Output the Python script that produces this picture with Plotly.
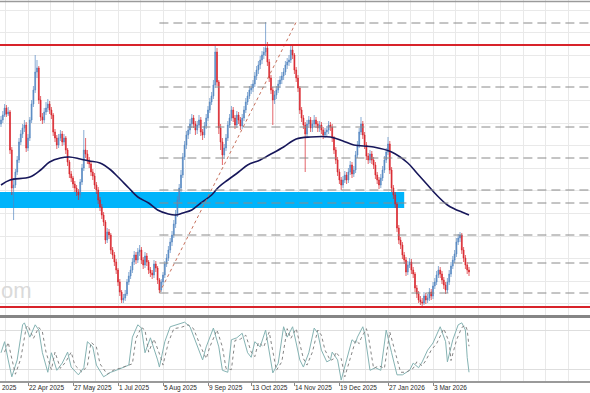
import numpy as np
import pandas as pd
import plotly.graph_objects as go

# ---------------- data (price in index points) ----------------
start_date = "2025-04-01"
first_open = 276
close = [280,285,292,286,288,250,212,215,228,240,
         258,266,272,275,252,262,280,296,310,328,
         332,300,283,280,288,292,296,290,285,268,
         262,255,262,266,258,262,250,238,226,222,
         216,212,208,205,218,232,250,246,240,236,
         228,224,215,210,200,193,185,178,160,168,
         165,150,145,138,130,118,108,100,102,106,
         118,124,130,138,145,140,148,150,140,135,
         144,138,130,127,125,136,132,120,110,118,
         125,136,142,150,158,165,176,186,200,212,
         225,243,255,265,270,276,282,276,270,275,
         280,268,265,274,282,290,298,304,315,348,
         318,272,258,245,252,262,275,282,290,282,
         275,285,280,274,282,290,298,304,310,312,
         316,324,330,335,340,345,348,352,338,322,
         310,300,305,310,316,320,324,328,335,338,
         340,350,345,330,322,312,290,282,275,266,
         276,280,272,276,280,276,272,275,270,265,
         268,270,275,273,262,250,240,228,220,215,
         220,225,220,228,235,226,230,245,255,268,
         276,265,255,244,240,246,240,235,225,220,
         215,222,230,240,248,256,230,212,205,196,
         172,160,155,145,140,128,135,138,130,126,
         112,106,100,98,97,104,100,102,108,104,
         114,118,125,130,126,120,115,110,118,126,
         134,140,146,158,162,165,150,142,135,130,
         128]
high = [284,289,296,295,293,290,253,222,231,244,
        262,270,276,280,278,266,283,300,314,345,
        340,334,304,287,292,298,301,299,293,287,
        271,265,266,270,269,266,264,252,240,229,
        224,219,215,211,221,236,270,262,250,243,
        239,231,227,218,213,203,196,188,180,172,
        171,167,153,148,141,132,121,110,106,110,
        121,128,134,142,149,148,152,155,153,143,
        148,147,140,133,130,140,139,134,122,121,
        128,139,146,154,162,169,180,190,204,216,
        230,247,259,269,274,281,286,285,279,279,
        285,283,271,278,286,294,302,308,320,355,
        352,320,276,262,256,266,279,286,294,293,
        285,289,288,283,286,294,302,308,314,316,
        320,328,334,339,344,349,353,378,358,341,
        325,313,309,314,320,324,328,332,339,342,
        345,355,354,347,333,325,314,293,285,278,
        280,284,283,280,285,283,279,279,278,273,
        272,274,279,278,276,264,253,243,231,223,
        224,229,228,232,239,238,234,249,259,272,
        283,279,268,258,247,250,249,243,238,228,
        223,226,234,244,252,263,259,233,215,208,
        198,175,163,158,148,143,139,142,141,133,
        128,115,109,104,102,108,107,106,112,111,
        118,122,129,134,133,129,123,118,122,130,
        138,144,150,162,166,168,167,153,145,138,
        133]
low = [273,277,283,283,284,246,205,180,212,225,
       237,255,262,268,248,249,259,277,293,307,
       322,296,279,276,277,285,288,286,281,264,
       258,251,252,259,254,255,246,234,222,218,
       212,208,204,200,202,215,229,242,236,232,
       224,220,211,206,196,189,181,174,156,157,
       161,146,141,134,126,114,104,97,97,99,
       104,115,121,127,135,136,137,144,136,131,
       132,134,126,123,121,122,128,116,107,108,
       115,122,133,139,147,154,162,172,183,196,
       208,222,240,251,261,266,272,272,265,266,
       272,264,260,262,271,279,287,295,301,312,
       314,266,250,235,241,249,259,272,279,278,
       271,272,276,270,271,279,287,295,301,306,
       308,313,320,326,331,336,341,344,334,318,
       306,275,296,301,307,312,316,320,325,331,
       334,337,341,326,318,308,286,278,271,228,
       262,272,268,268,273,272,268,268,266,261,
       262,264,266,269,258,246,236,224,216,210,
       212,217,216,217,225,222,223,227,242,252,
       265,261,251,240,236,237,236,231,221,216,
       211,212,219,227,237,245,226,208,201,192,
       168,156,151,141,136,124,125,132,126,122,
       108,102,97,95,94,95,96,97,99,100,
       101,111,115,122,122,116,111,106,107,115,
       123,131,137,143,155,158,146,138,131,126,
       124]

# moving average (bar index -> value)
ma_idx = [0,5,16,22,27,33,38,44,49,55,61,65,71,76,82,87,93,97,101,106,111,117,121,126,
          132,137,144,149,157,164,172,183,190,196,207,217,226,231,237,242,248,252,256,260]
ma_val = [215,220,223,230,238,242,243,241,239,237,230,223,212,203,197,190,186,185,187,190,
          197,205,213,220,228,235,240,245,253,261,263,263,259,255,253,248,237,227,215,205,
          195,191,188,185]

# oscillator (%K solid, %D dotted)
osc_idx = [0,2,4,6,9,12,13,16,19,21,23,26,28,31,34,37,39,43,46,48,51,53,57,61,64,68,71,73,76,78,
           80,83,84,87,88,91,94,98,102,105,109,112,114,118,121,123,126,128,131,134,137,139,141,144,
           147,149,151,154,157,159,162,164,166,168,171,174,176,178,181,183,184,187,189,192,195,197,
           198,201,202,205,208,211,214,217,220,223,227,229,232,234,237,240,244,247,248,251,254,256,
           258,259,260]
osc_k = [45,62,34,8,34,88,91,69,88,80,45,15,45,18,29,46,23,11,22,62,54,26,8,15,18,22,26,69,88,83,
         45,68,60,34,23,62,85,88,92,85,54,34,54,83,54,18,15,65,68,75,45,38,62,54,80,45,14,29,85,69,
         85,60,34,23,45,83,75,49,31,34,46,34,3,34,65,60,69,85,75,18,22,18,80,45,11,11,18,29,22,31,
         49,60,85,62,31,65,88,91,80,38,15]
sig_idx = [2,4,6,8,11,14,15,18,21,23,25,28,30,33,36,39,41,45,48,50,53,55,59,63,66,70,73,75,78,80,
           82,85,86,89,90,93,96,100,104,107,111,114,116,120,123,125,128,130,133,136,139,141,143,146,
           149,151,153,156,159,161,164,166,168,170,173,176,178,180,183,185,186,189,191,194,197,199,
           200,203,204,207,210,213,216,219,222,225,229,231,234,236,239,242,246,249,250,253,256,258,
           259,260]
sig_d = [46,61,36,12,36,84,87,67,84,77,46,19,46,21,31,46,26,15,25,61,54,28,12,19,21,25,28,67,84,80,
         46,66,59,36,26,61,82,84,88,82,54,36,54,80,54,21,19,64,66,72,46,39,61,54,77,46,18,31,82,67,
         82,59,36,26,46,80,72,49,33,36,46,36,8,36,64,59,67,82,72,21,25,21,77,46,15,15,21,31,25,33,
         49,59,82,61,33,64,84,87,80,55]
osc_levels = [20, 80]

# drawn objects
resistance = 355
support = 93
zone_low, zone_high, zone_end_idx = 192, 208, 224
fib_anchor_idx = [88, 164]
fib_anchor_price = [107, 378]
fib_levels = [377, 313, 273, 242, 210, 197, 165, 137, 107]

label_dates = ["2025-03-18", "2025-04-22", "2025-05-27", "2025-07-01", "2025-08-05", "2025-09-09",
               "2025-10-13", "2025-11-14", "2025-12-19", "2026-01-27", "2026-03-03"]

# ---------------- build ----------------
N = len(close)
dates = pd.bdate_range(start_date, periods=N)
opens = [first_open] + close[:-1]
xi = list(range(N))
label_idx = [int(np.busday_count(start_date, d)) for d in label_dates]
label_txt = [pd.Timestamp(d).strftime("%-d %b %Y") for d in label_dates]

W, H = 590, 393
main_dom = [1 - 316 / H, 1.0]
osc_dom = [1 - 382 / H, 1 - 317 / H]
px_per_bar = 1.8
xr = [-1 / px_per_bar, (W - 1) / px_per_bar]


def to_paper_x(i):
    return (i - xr[0]) / (xr[1] - xr[0])


RED = "#d8232a"
BLUE = "#5587c2"
GRID = "#e9e9e9"
LABEL_FONT = dict(family="Liberation Sans", size=6.5, color="#2a2a2a")

fig = go.Figure()
fig.add_trace(go.Candlestick(
    x=xi, open=opens, high=high, low=low, close=close,
    increasing=dict(line=dict(color=BLUE, width=0.7), fillcolor=BLUE),
    decreasing=dict(line=dict(color=RED, width=0.7), fillcolor=RED),
    whiskerwidth=0, text=[d.strftime("%d %b %Y") for d in dates],
    xaxis="x", yaxis="y", showlegend=False))
fig.add_trace(go.Scatter(x=ma_idx, y=ma_val, mode="lines",
                         line=dict(color="#17175a", width=1.6, shape="spline", smoothing=1.0),
                         xaxis="x", yaxis="y", hoverinfo="skip"))
fig.add_trace(go.Scatter(x=fib_anchor_idx, y=fib_anchor_price, mode="lines",
                         line=dict(color="#c7705c", width=1, dash="dot"),
                         xaxis="x", yaxis="y", hoverinfo="skip"))
fig.add_trace(go.Scatter(x=osc_idx, y=osc_k, mode="lines",
                         line=dict(color="#85b3b3", width=1),
                         xaxis="x2", yaxis="y2", hoverinfo="skip"))
fig.add_trace(go.Scatter(x=sig_idx, y=sig_d, mode="lines",
                         line=dict(color="#858585", width=1, dash="dot"),
                         xaxis="x2", yaxis="y2", hoverinfo="skip"))

shapes = []
# support / resistance
for lvl in (resistance, support):
    shapes.append(dict(type="line", xref="paper", yref="y", x0=0, x1=1, y0=lvl, y1=lvl,
                       line=dict(color=RED, width=2), layer="above"))
# blue zone
shapes.append(dict(type="rect", xref="x", yref="y", x0=xr[0], x1=zone_end_idx,
                   y0=zone_low, y1=zone_high, fillcolor="#00b4fb", line=dict(width=0),
                   layer="between"))
# fibonacci levels
for lvl in fib_levels:
    shapes.append(dict(type="line", xref="x", yref="y", x0=fib_anchor_idx[0], x1=xr[1],
                       y0=lvl, y1=lvl, line=dict(color="#8a8a8a", width=1, dash="9px,5px"),
                       layer="above"))
# panel frames
shapes.append(dict(type="line", xref="paper", yref="paper", x0=0, x1=1,
                   y0=1 - 1.5 / H, y1=1 - 1.5 / H, line=dict(color="#9a9a9a", width=1.5)))
shapes.append(dict(type="line", xref="paper", yref="paper", x0=0, x1=1,
                   y0=1 - 316.5 / H, y1=1 - 316.5 / H, line=dict(color="#858585", width=3)))
shapes.append(dict(type="line", xref="paper", yref="paper", x0=0, x1=1,
                   y0=1 - 382 / H, y1=1 - 382 / H, line=dict(color="#9a9a9a", width=2)))

annotations = []
label_y = 1 - 387.5 / H
for i, t in zip(label_idx, label_txt):
    if i < 0:
        # label whose start lies left of the window: only its year part is visible
        annotations.append(dict(x=0, xref="paper", y=label_y, yref="paper", text=t.split()[-1],
                                showarrow=False, xanchor="left", yanchor="middle", xshift=0,
                                font=LABEL_FONT))
        continue
    annotations.append(dict(x=to_paper_x(i), xref="paper", y=label_y, yref="paper", text=t,
                            showarrow=False, xanchor="left", yanchor="middle", xshift=-1,
                            font=LABEL_FONT))
annotations.append(dict(x=0, xref="paper", y=1 - 290 / H, yref="paper", text="om",
                        showarrow=False, xanchor="left", yanchor="middle", xshift=-1,
                        font=dict(family="Liberation Sans", size=22, color="#dadada")))

fig.update_layout(
    width=W, height=H, margin=dict(l=0, r=0, t=0, b=0),
    paper_bgcolor="white", plot_bgcolor="white", showlegend=False,
    shapes=shapes, annotations=annotations,
    xaxis=dict(domain=[0, 1], range=xr, anchor="y", showticklabels=False, ticks="",
               tickmode="linear", tick0=15, dtick=12.5, showgrid=True, gridcolor=GRID,
               gridwidth=1, zeroline=False, rangeslider=dict(visible=False), showline=False),
    yaxis=dict(domain=main_dom, range=[84, 400], showticklabels=False, ticks="",
               tickmode="linear", tick0=390, dtick=22.6, showgrid=True, gridcolor=GRID,
               zeroline=False, showline=False),
    xaxis2=dict(domain=[0, 1], range=xr, anchor="y2", matches="x", showticklabels=False,
                tickmode="array", tickvals=label_idx, ticks="outside", ticklen=3,
                tickcolor="#888888", showgrid=False, zeroline=False, showline=False,
                minor=dict(tickmode="linear", tick0=15, dtick=12.5, showgrid=True,
                           gridcolor=GRID, ticks="")),
    yaxis2=dict(domain=osc_dom, range=[0, 100], showticklabels=False, ticks="",
                tickmode="array", tickvals=osc_levels, showgrid=True, gridcolor="#dedede",
                zeroline=False, showline=False),
)

fig.write_html("out.html")
